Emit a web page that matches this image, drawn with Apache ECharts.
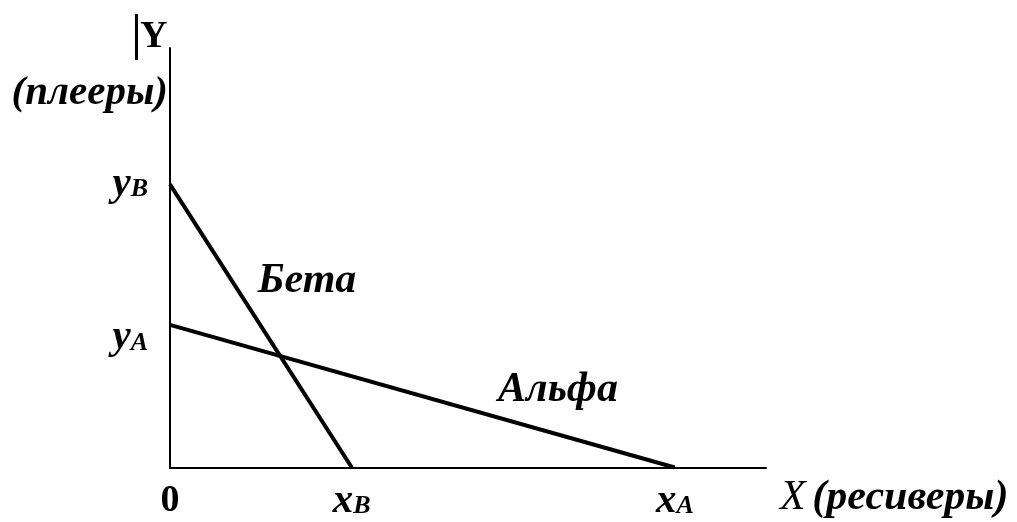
<!DOCTYPE html>
<html>
<head>
<meta charset="utf-8">
<script src="https://cdn.jsdelivr.net/npm/echarts@6/dist/echarts.min.js"></script>
<style>
  html, body { margin: 0; padding: 0; background: #fff; }
  #chart { width: 1017px; height: 522px; }
</style>
</head>
<body>
<div id="chart"></div>
<script>
// two budget lines: [Альфа, Бета]
var names = ['Альфа', 'Бета'];
var xIntercepts = [84.7, 30.5];   // x_A, x_B
var yIntercepts = [34.0, 67.5];   // y_A, y_B
var subs = ['A', 'B'];
// where the series names sit (in data units)
var nameSpots = [[65.1, 18.5], [23.0, 44.5]];

var FONT = '"Liberation Serif", "DejaVu Serif", serif';

var rich = {
  n: { fontFamily: FONT, fontWeight: 'bold', fontSize: 38, lineHeight: 36, color: '#000' },
  v: { fontFamily: FONT, fontWeight: 'bold', fontStyle: 'italic', fontSize: 41, lineHeight: 36, color: '#000' },
  s: { fontFamily: FONT, fontWeight: 'bold', fontStyle: 'italic', fontSize: 26, lineHeight: 6, verticalAlign: 'bottom', color: '#000' },
  gap: { lineHeight: 26 }
};

function tickText(letter, value, intercepts) {
  if (value === 0) return letter === 'x' ? '{n|0}' : '';
  for (var i = 0; i < intercepts.length; i++) {
    if (value === intercepts[i]) {
      var t = '{v|' + letter + '}{s|' + subs[i] + '}';
      // y_A sits a little lower than its line in the picture
      if (letter === 'y' && i === 0) t = '{gap| }\n' + t;
      return t;
    }
  }
  return '';
}

var chart = echarts.init(document.getElementById('chart'));

var series = names.map(function (nm, i) {
  return {
    name: nm,
    type: 'line',
    data: [[0, yIntercepts[i]], [xIntercepts[i], 0]],
    showSymbol: false,
    symbol: 'none',
    lineStyle: { color: '#000', width: 4 },
    z: 3,
    markPoint: {
      symbol: 'circle',
      symbolSize: 0,
      data: [{ coord: nameSpots[i] }],
      label: {
        show: true,
        position: 'inside',
        formatter: nm,
        fontFamily: FONT,
        fontWeight: 'bold',
        fontStyle: 'italic',
        fontSize: 42,
        color: '#000'
      }
    }
  };
});

chart.setOption({
  animation: false,
  backgroundColor: '#fff',
  grid: { left: 170, right: 251, top: 48, bottom: 53, containLabel: false },
  xAxis: {
    type: 'value',
    min: 0,
    max: 100,
    axisLine: { show: true, lineStyle: { color: '#000', width: 2 } },
    axisTick: { show: false },
    splitLine: { show: false },
    axisLabel: {
      margin: 16,
      customValues: [0].concat(xIntercepts),
      formatter: function (v) { return tickText('x', v, xIntercepts); },
      rich: rich
    }
  },
  yAxis: {
    type: 'value',
    min: 0,
    max: 100,
    axisLine: { show: true, lineStyle: { color: '#000', width: 2 } },
    axisTick: { show: false },
    splitLine: { show: false },
    axisLabel: {
      margin: 22,
      customValues: yIntercepts.slice(),
      formatter: function (v) { return tickText('y', v, yIntercepts); },
      rich: rich
    }
  },
  graphic: [
    { type: 'rect', left: 135, top: 14, shape: { width: 3, height: 46 }, style: { fill: '#000' } },
    { type: 'text', left: 140, top: 18, style: { text: 'Y', font: 'bold 38px ' + FONT, fill: '#000' } },
    { type: 'text', right: 1017 - 168, top: 73, style: { text: '(плееры)', font: 'italic bold 41px ' + FONT, fill: '#000' } },
    { type: 'text', left: 780, top: 477, style: {
        text: '{x|X}  {p|(ресиверы)}',
        rich: {
          x: { fontFamily: FONT, fontStyle: 'italic', fontSize: 42, color: '#000' },
          p: { fontFamily: FONT, fontStyle: 'italic', fontWeight: 'bold', fontSize: 42, color: '#000' }
        }
      } }
  ],
  series: series
});
</script>
</body>
</html>
